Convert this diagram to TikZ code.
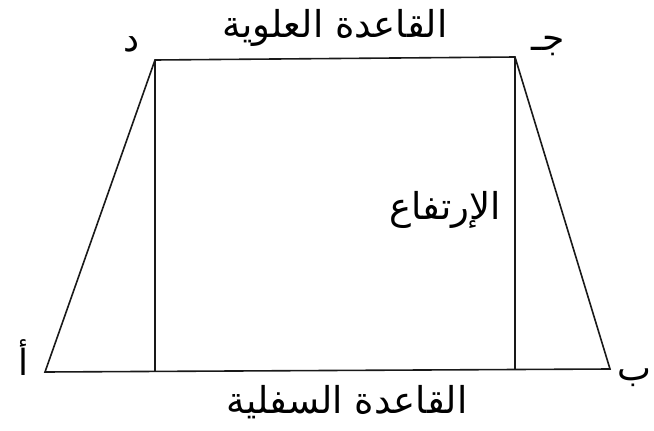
\documentclass[tikz,border=0pt]{standalone}
\usepackage{fontspec}
\newfontfamily\arabicfont[Script=Arabic]{DejaVu Sans}
\TeXXeTstate=1
\usetikzlibrary{positioning}

\begin{document}
\begin{tikzpicture}[x=1pt, y=-1pt,
  edge/.style={draw=black!90, line width=1.6pt},
  lbl/.style={font=\arabicfont\fontsize{37}{42}\selectfont, inner sep=0pt},
  vtx/.style={font=\arabicfont\fontsize{36}{40}\selectfont, inner sep=0pt}]
  \useasboundingbox (0,0) rectangle (654,431);
  % corners
  \coordinate (A) at (45,372);
  \coordinate (B) at (610,369);
  \coordinate (C) at (515,57);
  \coordinate (D) at (155,60);
  \coordinate (Dh) at (155,372);
  \coordinate (Ch) at (515,369);
  % trapezoid and heights
  \draw[edge] (A) -- (B) -- (C) -- (D) -- cycle;
  \draw[edge] (D) -- (Dh);
  \draw[edge] (C) -- (Ch);
  % vertex names
  \node[vtx] (a) at (24,358) {\beginR أ\endR};
  \node[vtx, left] (b) at (652,378) {\beginR ب\endR};
  \node[vtx] (c) at (548,46) {\beginR جـ\endR};
  \node[vtx] (d) at (132,44) {\beginR د\endR};
  % labels
  \node[lbl] (top) at (335,28) {\beginR القاعدة العلوية\endR};
  \node[lbl] (bot) at (347,402) {\beginR القاعدة السفلية\endR};
  \node[lbl] (h) at (445,210) {\beginR الإرتفاع\endR};
\end{tikzpicture}
\end{document}
